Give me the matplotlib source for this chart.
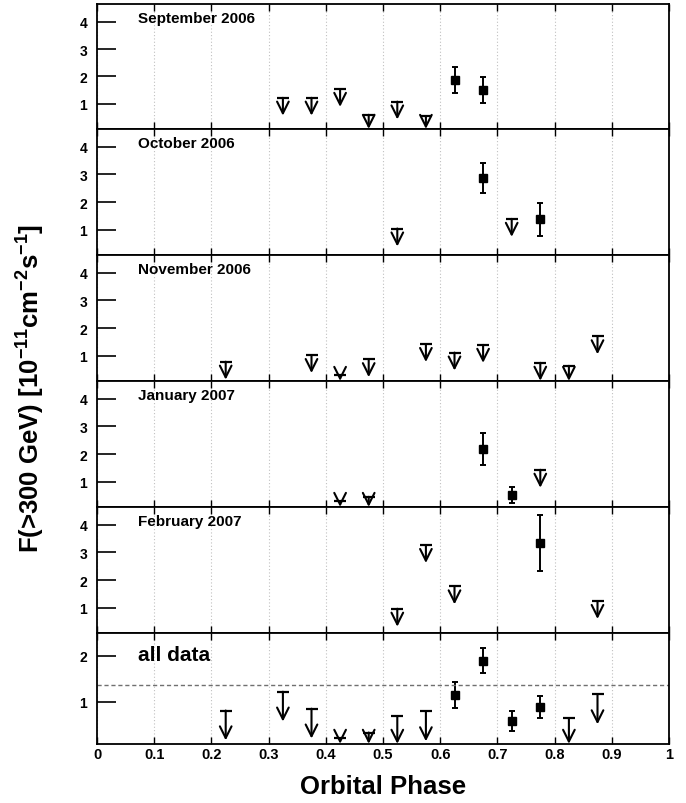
import matplotlib
matplotlib.use("Agg")
import matplotlib.pyplot as plt
from matplotlib.patches import FancyArrowPatch
import numpy as np

plt.rcParams['font.family'] = ['Liberation Sans', 'DejaVu Sans']
plt.rcParams['font.weight'] = 'bold'
plt.rcParams['mathtext.fontset'] = 'custom'
plt.rcParams['mathtext.rm'] = 'Liberation Sans:bold'
plt.rcParams['mathtext.bf'] = 'Liberation Sans:bold'
plt.rcParams['mathtext.it'] = 'Liberation Sans:bold'
plt.rcParams['mathtext.default'] = 'bf'

# ---------------- data ----------------
panel_titles = ["September 2006", "October 2006", "November 2006",
                "January 2007", "February 2007", "all data"]

sep_ul_phase = [0.325, 0.375, 0.425, 0.475, 0.525, 0.575]
sep_ul = [1.22, 1.22, 1.54, 0.60, 1.08, 0.55]
sep_det_phase = [0.625, 0.675]
sep_det = [1.87, 1.51]
sep_det_hi = [2.33, 1.97]
sep_det_lo = [1.39, 1.02]

oct_ul_phase = [0.525, 0.725]
oct_ul = [1.04, 1.39]
oct_det_phase = [0.675, 0.775]
oct_det = [2.88, 1.37]
oct_det_hi = [3.42, 1.95]
oct_det_lo = [2.33, 0.78]

nov_ul_phase = [0.225, 0.375, 0.425, 0.475, 0.575, 0.625, 0.675, 0.775, 0.825, 0.875]
nov_ul = [0.78, 1.02, 0.30, 0.87, 1.42, 1.11, 1.39, 0.74, 0.63, 1.70]
nov_det_phase = []
nov_det = []
nov_det_hi = []
nov_det_lo = []

jan_ul_phase = [0.425, 0.475, 0.775]
jan_ul = [0.28, 0.45, 1.43]
jan_det_phase = [0.675, 0.725]
jan_det = [2.20, 0.52]
jan_det_hi = [2.77, 0.79]
jan_det_lo = [1.61, 0.24]

feb_ul_phase = [0.525, 0.575, 0.625, 0.875]
feb_ul = [0.96, 3.27, 1.77, 1.24]
feb_det_phase = [0.775]
feb_det = [3.35]
feb_det_hi = [4.37]
feb_det_lo = [2.32]

all_ul_phase = [0.225, 0.325, 0.375, 0.425, 0.475, 0.525, 0.575, 0.825, 0.875]
all_ul = [0.81, 1.22, 0.85, 0.21, 0.33, 0.69, 0.79, 0.64, 1.16]
all_det_phase = [0.625, 0.675, 0.725, 0.775]
all_det = [1.14, 1.90, 0.58, 0.89]
all_det_hi = [1.43, 2.17, 0.81, 1.13]
all_det_lo = [0.87, 1.63, 0.37, 0.64]

all_mean_flux = 1.37
arrow_len = 0.65

x_ticks = [0, 0.1, 0.2, 0.3, 0.4, 0.5, 0.6, 0.7, 0.8, 0.9, 1]
x_tick_labels = ["0", "0.1", "0.2", "0.3", "0.4", "0.5", "0.6", "0.7", "0.8", "0.9", "1"]

panels = [
    (sep_ul_phase, sep_ul, sep_det_phase, sep_det, sep_det_lo, sep_det_hi),
    (oct_ul_phase, oct_ul, oct_det_phase, oct_det, oct_det_lo, oct_det_hi),
    (nov_ul_phase, nov_ul, nov_det_phase, nov_det, nov_det_lo, nov_det_hi),
    (jan_ul_phase, jan_ul, jan_det_phase, jan_det, jan_det_lo, jan_det_hi),
    (feb_ul_phase, feb_ul, feb_det_phase, feb_det, feb_det_lo, feb_det_hi),
    (all_ul_phase, all_ul, all_det_phase, all_det, all_det_lo, all_det_hi),
]

# ---------------- layout ----------------
W, H = 686, 804
fig = plt.figure(figsize=(W / 100, H / 100), dpi=100)
left_px, right_px = 97, 669
edges_px = [5, 130, 256, 382, 508, 634, 745]

for i, (ulx, uly, dx, dy, dlo, dhi) in enumerate(panels):
    top, bot = edges_px[i], edges_px[i + 1]
    ax = fig.add_axes([left_px / W, 1 - bot / H, (right_px - left_px) / W, (bot - top) / H])
    last = (i == len(panels) - 1)
    if last:
        ylo, yhi = 0.08, 2.5
        yt = [1, 2]
    else:
        ylo, yhi = 0.08, 4.65
        yt = [1, 2, 3, 4]
    ax.set_xlim(0, 1)
    ax.set_ylim(ylo, yhi)
    ax.set_xticks(x_ticks)
    ax.grid(axis='x', linestyle=(0, (1, 2)), color='#c0c0c0', linewidth=0.8)
    ax.set_axisbelow(True)
    ax.set_yticks(yt)
    ax.set_yticklabels([str(v) for v in yt], fontsize=10, fontweight='bold')
    ax.tick_params(axis='y', direction='in', length=14, width=1.2, pad=7, right=False)
    ax.tick_params(axis='x', direction='in', length=5, width=1, top=True)
    if last:
        ax.set_xticklabels(x_tick_labels, fontsize=10.5, fontweight='bold')
        ax.tick_params(axis='x', pad=2)
    else:
        ax.set_xticklabels([])
    for sp in ax.spines.values():
        sp.set_linewidth(1.3)

    # upper limits
    for x, v in zip(ulx, uly):
        end = max(v - arrow_len, ylo + 0.005)
        arr = FancyArrowPatch((x, v), (x, end), arrowstyle='->,head_length=0.6,head_width=0.3',
                              mutation_scale=14, color='black', linewidth=1.5,
                              shrinkA=0, shrinkB=0)
        ax.add_patch(arr)
    ax.plot(ulx, uly, linestyle='none', marker='_', markersize=8, mew=1.6, color='black')

    # detections
    if len(dx):
        dy_a = np.array(dy)
        yerr = [dy_a - np.array(dlo), np.array(dhi) - dy_a]
        ax.errorbar(dx, dy, yerr=yerr, fmt='s', color='black', ms=6, elinewidth=1.4,
                    capsize=2.5, capthick=1.4)

    if last:
        ax.axhline(all_mean_flux, linestyle=(0, (3, 2)), color='#707070', linewidth=1)
        ax.text(0.072, 0.81, panel_titles[i], transform=ax.transAxes, fontsize=15,
                fontweight='bold', va='center', ha='left')
    else:
        ax.text(0.072, 0.89, panel_titles[i], transform=ax.transAxes, fontsize=11,
                fontweight='bold', va='center', ha='left')

fig.text(31 / W, 1 - 388 / H, r"F(>300 GeV) [10$^{-11}$cm$^{-2}$s$^{-1}$]",
         rotation=90, fontsize=18.5, fontweight='bold', ha='center', va='center')
fig.text(383 / W, 1 - 787 / H, "Orbital Phase", fontsize=18.5, fontweight='bold',
         ha='center', va='center')

fig.savefig("out.png", dpi=100)
